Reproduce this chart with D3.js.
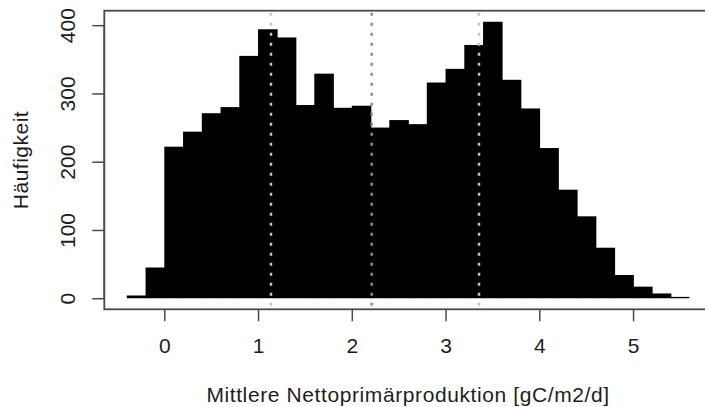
<!DOCTYPE html>
<html>
<head>
<meta charset="utf-8">
<script src="https://cdn.jsdelivr.net/npm/d3@7"></script>
<style>
  html, body { margin: 0; padding: 0; background: #fff; }
  svg { display: block; font-family: "Liberation Sans", Arial, sans-serif; }
</style>
</head>
<body>
<svg id="chart" width="705" height="407"></svg>
<script>
// Histogram of mean net primary production, bin width 0.2
const binStarts = [-0.4, -0.2, 0.0, 0.2, 0.4, 0.6, 0.8, 1.0, 1.2, 1.4,
                   1.6, 1.8, 2.0, 2.2, 2.4, 2.6, 2.8, 3.0, 3.2, 3.4,
                   3.6, 3.8, 4.0, 4.2, 4.4, 4.6, 4.8, 5.0, 5.2, 5.4];
const counts = [4, 45, 222, 244, 271, 280, 355, 394, 382, 283,
                329, 279, 282, 250, 261, 255, 316, 336, 371, 405,
                320, 278, 220, 159, 120, 74, 34, 17, 7, 2];
const binWidth = 0.2;
// Quartile markers: Q1, median, Q3
const quartiles = [1.138, 2.212, 3.357];
const quartileColors = ["#c4c4c4", "#8c8c8c", "#c4c4c4"];
const xTicks = [0, 1, 2, 3, 4, 5];
const yTicks = [0, 100, 200, 300, 400];
const xTitle = "Mittlere Nettoprimärproduktion [gC/m2/d]";
const yTitle = "Häufigkeit";

const svg = d3.select("#chart");

// Plot region with 4% padding on both axes
const xMin = binStarts[0], xMax = binStarts[binStarts.length - 1] + binWidth;
const xPad = 0.04 * (xMax - xMin);
const yMax = d3.max(counts), yPad = 0.04 * yMax;

const x = d3.scaleLinear().domain([xMin - xPad, xMax + xPad]).range([104.3, 711.8]);
const y = d3.scaleLinear().domain([-yPad, yMax + yPad]).range([309.3, 10.7]);

const axisColor = "#4a4a4a";
const textColor = "#1e1e1e";
const fontSize = 21;

// Bars: each rect overlaps its right neighbour slightly so no seams show
svg.append("g").selectAll("rect")
  .data(counts.map((c, i) => ({ x0: binStarts[i], n: c, last: i === counts.length - 1 })))
  .join("rect")
  .attr("x", d => x(d.x0))
  .attr("width", d => x(d.x0 + binWidth) - x(d.x0) + (d.last ? 0 : 0.8))
  .attr("y", d => y(d.n))
  .attr("height", d => y(0) - y(d.n))
  .attr("fill", "#000");

// Quartile lines (dotted)
svg.append("g").selectAll("line")
  .data(quartiles)
  .join("line")
  .attr("x1", d => x(d)).attr("x2", d => x(d))
  .attr("y1", y(yMax + yPad)).attr("y2", y(-yPad))
  .attr("stroke", (d, i) => quartileColors[i])
  .attr("stroke-width", 2.5)
  .attr("stroke-dasharray", "3,7")
  .attr("stroke-dashoffset", -2);

// Frame
svg.append("rect")
  .attr("x", x(xMin - xPad)).attr("y", y(yMax + yPad))
  .attr("width", x(xMax + xPad) - x(xMin - xPad))
  .attr("height", y(-yPad) - y(yMax + yPad))
  .attr("fill", "none")
  .attr("stroke", axisColor)
  .attr("stroke-width", 1.8);

// X axis
const gx = svg.append("g")
  .attr("transform", `translate(0,${y(-yPad)})`)
  .call(d3.axisBottom(x).tickValues(xTicks).tickFormat(d3.format("d")).tickSize(12));
gx.select(".domain").remove();
gx.selectAll(".tick line").attr("stroke", axisColor).attr("stroke-width", 1.5);
gx.selectAll(".tick text")
  .attr("y", 44).attr("dy", 0)
  .attr("fill", textColor)
  .style("font-size", fontSize + "px")
  .style("font-family", "'Liberation Sans', Arial, sans-serif");

// Y axis with rotated labels
const gy = svg.append("g")
  .attr("transform", `translate(${x(xMin - xPad)},0)`)
  .call(d3.axisLeft(y).tickValues(yTicks).tickFormat(d3.format("d")).tickSize(12));
gy.select(".domain")
  .attr("d", `M0,${y(yTicks[0])}V${y(yTicks[yTicks.length - 1])}`)
  .attr("stroke", axisColor).attr("stroke-width", 1.5);
gy.selectAll(".tick line").attr("stroke", axisColor).attr("stroke-width", 1.5);
gy.selectAll(".tick text")
  .attr("transform", "rotate(-90)")
  .attr("x", 0).attr("y", -29.3).attr("dy", 0)
  .attr("text-anchor", "middle")
  .attr("fill", textColor)
  .style("font-size", fontSize + "px")
  .style("font-family", "'Liberation Sans', Arial, sans-serif");

// Axis titles
svg.append("text")
  .attr("x", (x(xMin - xPad) + x(xMax + xPad)) / 2)
  .attr("y", 401.5)
  .attr("text-anchor", "middle")
  .attr("fill", textColor)
  .style("font-size", fontSize + "px")
  .style("letter-spacing", "0.6px")
  .text(xTitle);

svg.append("text")
  .attr("transform", `translate(28.3,${(y(-yPad) + y(yMax + yPad)) / 2}) rotate(-90)`)
  .attr("text-anchor", "middle")
  .attr("fill", textColor)
  .style("font-size", fontSize + "px")
  .style("letter-spacing", "0.5px")
  .text(yTitle);
</script>
</body>
</html>
